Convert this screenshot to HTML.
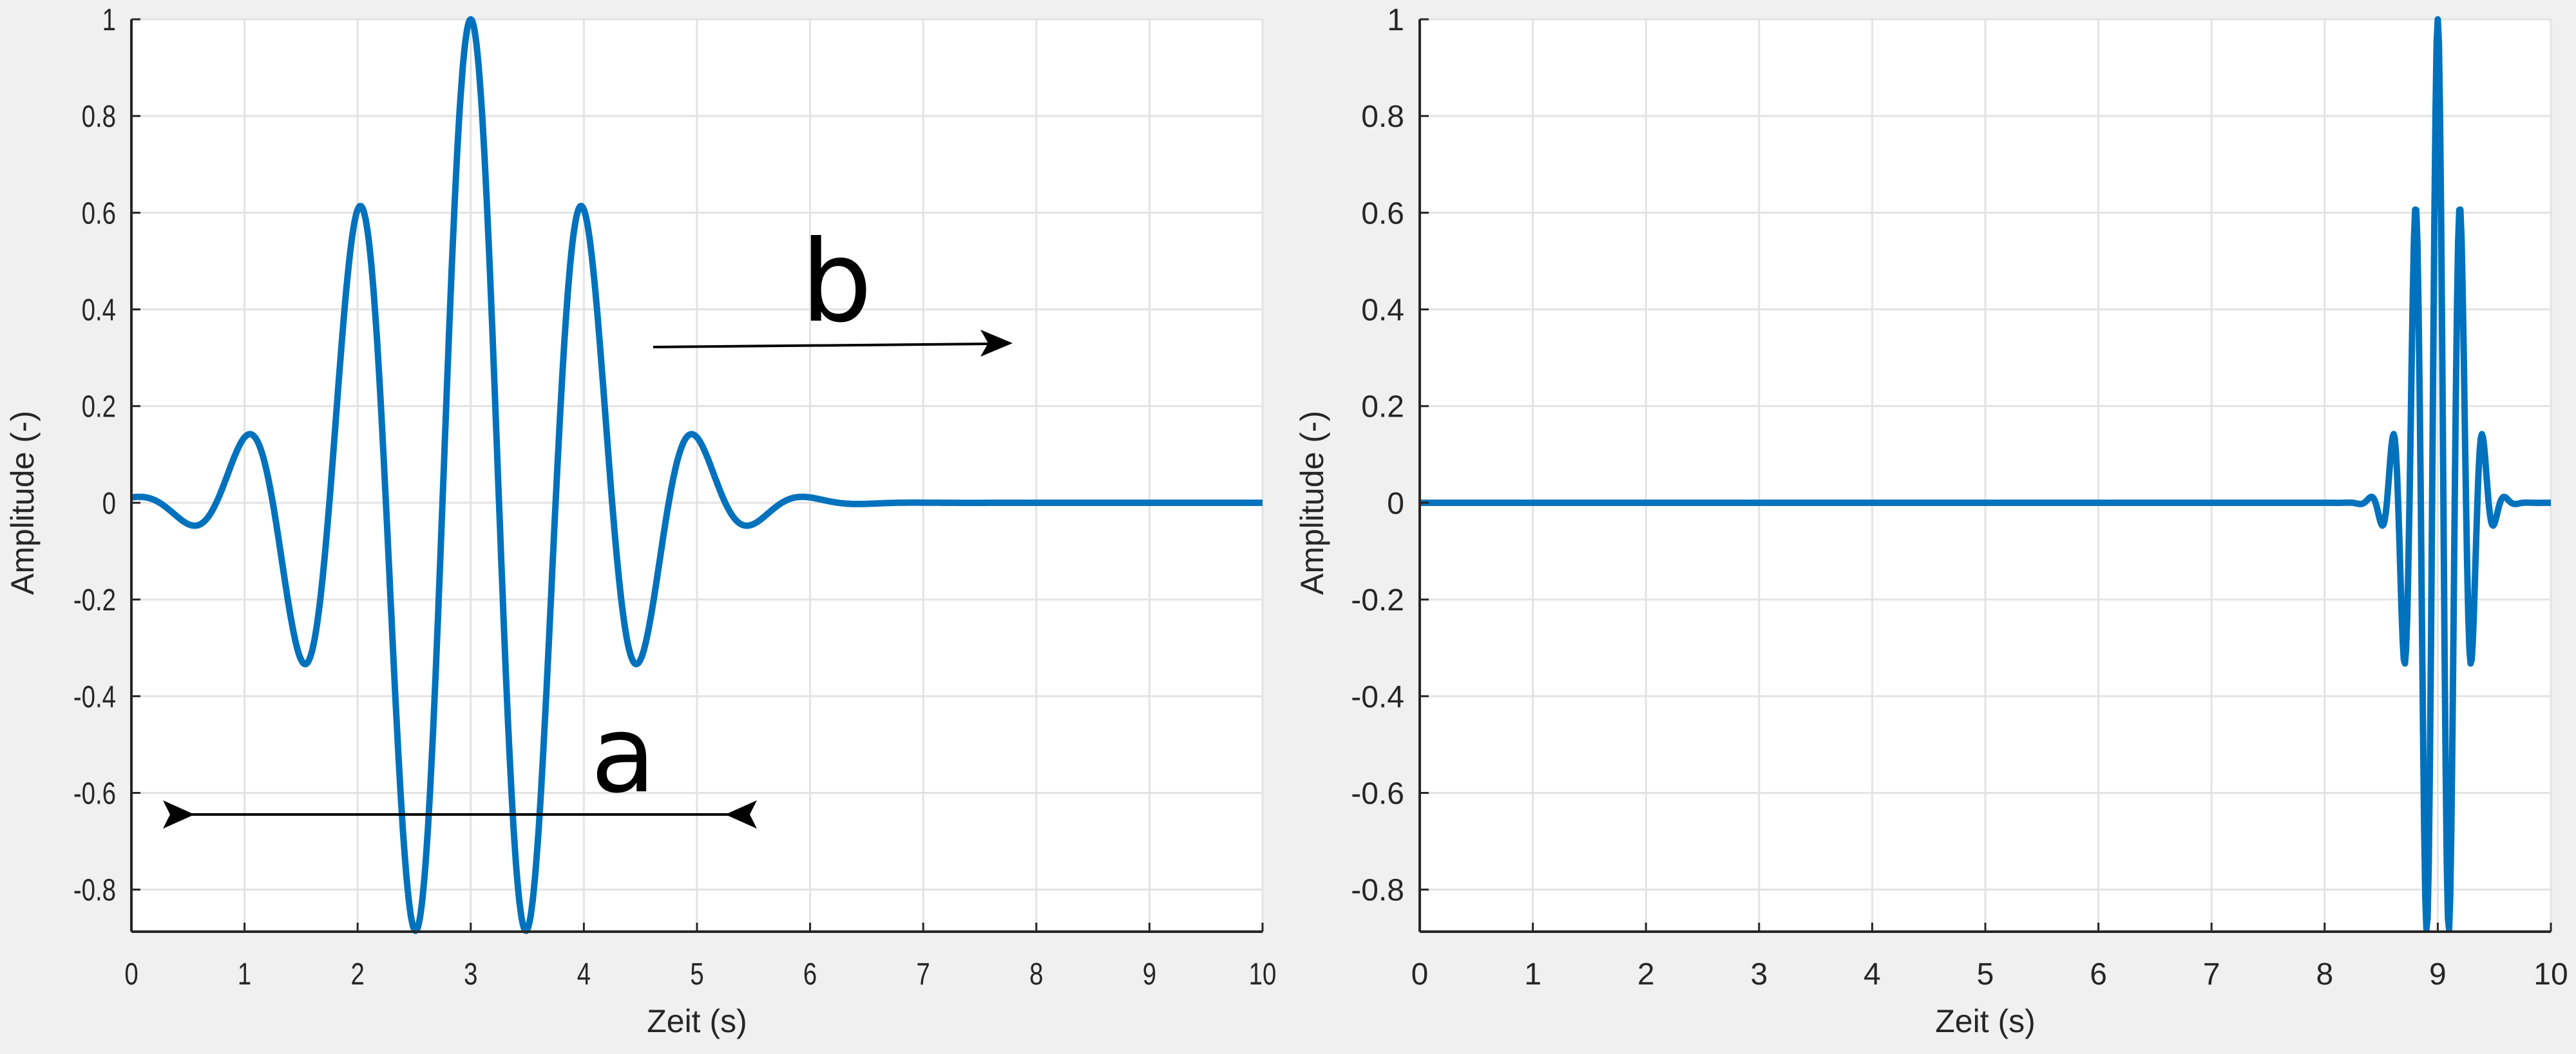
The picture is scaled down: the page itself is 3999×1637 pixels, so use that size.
<!DOCTYPE html>
<html><head><meta charset="utf-8">
<style>
html,body{margin:0;padding:0;background:#f0f0f0;}
svg{display:block;font-family:"Liberation Sans",Arial,sans-serif;}
</style></head>
<body>
<svg id="chart" width="3999" height="1637" viewBox="0 0 3999 1637" xmlns="http://www.w3.org/2000/svg">
<rect x="0" y="0" width="3999" height="1637" fill="#f0f0f0"/>
<g id="panels"></g>
<g id="annotations">
  <text x="1243" y="498" font-family="DejaVu Sans, sans-serif" font-size="175" fill="#000">b</text>
  <line x1="1014" y1="539" x2="1540" y2="534" stroke="#000" stroke-width="4"/>
  <path d="M1572,533 L1522,512 L1534,533 L1522,554 Z" fill="#000"/>
  <text x="917" y="1229" font-family="DejaVu Sans, sans-serif" font-size="165" fill="#000">a</text>
  <line x1="270" y1="1265" x2="1160" y2="1265" stroke="#000" stroke-width="4"/>
  <path d="M302,1265 L253,1243 L264,1265 L253,1287 Z" fill="#000"/>
  <path d="M1126,1265 L1175,1243 L1164,1265 L1175,1287 Z" fill="#000"/>
</g>
</svg>
<script>
// data
const xTicks = [0,1,2,3,4,5,6,7,8,9,10];
const yTicks = [1,0.8,0.6,0.4,0.2,0,-0.2,-0.4,-0.6,-0.8];
const yTickLabels = ['1','0.8','0.6','0.4','0.2','0','-0.2','-0.4','-0.6','-0.8'];
const xDomain = [0,10];
const yDomain = [-0.887,1];
// wavelet parameters [center (s), period (s), gaussian sigma (s)]
const leftWavelet = [3, 1, 1];
const rightWavelet = [9, 0.2, 0.2];
const xLabel = 'Zeit (s)';
const yLabel = 'Amplitude (-)';

const NS='http://www.w3.org/2000/svg';
const panels=document.getElementById('panels');
function mk(tag,attrs,parent){const e=document.createElementNS(NS,tag);for(const k in attrs)e.setAttribute(k,attrs[k]);parent.appendChild(e);return e;}

function drawPanel(name,L,R,T,B,wave,ylx,step,narrow){
  const g=mk('g',{},panels);
  
  
  const sx=v=>L+(v-xDomain[0])/(xDomain[1]-xDomain[0])*(R-L);
  const sy=v=>B-(v-yDomain[0])/(yDomain[1]-yDomain[0])*(B-T);
  const bg=mk('rect',{x:L,y:T,width:R-L,height:B-T,fill:'#fff'},g);
  
  
  xTicks.forEach(t=>{
    const l=mk('line',{x1:sx(t),x2:sx(t),y1:T,y2:B,stroke:'#e3e3e3','stroke-width':3},g);
    
    
  });
  yTicks.forEach(t=>{
    const l=mk('line',{x1:L,x2:R,y1:sy(t),y2:sy(t),stroke:'#e3e3e3','stroke-width':3},g);
    
    
  });
  // curve
  const c=wave[0],p=wave[1],s=wave[2];
  let d='';
  for(let t=xDomain[0];t<=xDomain[1]+1e-9;t+=step){
    const v=Math.cos(2*Math.PI*(t-c)/p)*Math.exp(-0.5*Math.pow((t-c)/s,2));
    d+=(d?'L':'M')+sx(t).toFixed(1)+','+sy(v).toFixed(1);
  }
  const cp=mk('clipPath',{id:name+'-clip'},g);
  mk('rect',{x:L,y:T-8,width:R-L,height:B-T+16},cp);
  const path=mk('path',{d:d,fill:'none',stroke:'#0072bd','stroke-width':10,'stroke-linejoin':'round','clip-path':'url(#'+name+'-clip)'},g);
  
  
  // axes
  const ax=mk('line',{x1:L,x2:R,y1:B,y2:B,stroke:'#262626','stroke-width':4},g);
  
  
  const ay=mk('line',{x1:L,x2:L,y1:T,y2:B,stroke:'#262626','stroke-width':4},g);
  
  
  xTicks.forEach(t=>{
    mk('line',{x1:sx(t),x2:sx(t),y1:B,y2:B-14,stroke:'#262626','stroke-width':3},g);
    const tx=mk('text',{x:sx(t),y:B+82,'text-anchor':'middle','font-size':48,fill:'#262626'},g);
    if(narrow)tx.setAttribute('transform','translate('+sx(t)+',0) scale(0.8,1) translate('+(-sx(t))+',0)');
    tx.textContent=String(t);
    
    
  });
  yTicks.forEach((t,i)=>{
    mk('line',{x1:L,x2:L+14,y1:sy(t),y2:sy(t),stroke:'#262626','stroke-width':3},g);
    const tx=mk('text',{x:L-24,y:sy(t)+17,'text-anchor':'end','font-size':48,fill:'#262626'},g);
    if(narrow)tx.setAttribute('transform','translate('+(L-24)+',0) scale(0.8,1) translate('+(-(L-24))+',0)');
    tx.textContent=yTickLabels[i];
    
    
  });
  const xl=mk('text',{x:(L+R)/2,y:1603,'text-anchor':'middle','font-size':50,fill:'#262626'},g);
  xl.textContent=xLabel;
  
  
  const ym=sy(0);
  const yl=mk('text',{x:ylx,y:ym,'text-anchor':'middle','font-size':50,fill:'#262626',transform:'rotate(-90 '+ylx+' '+ym+')'},g);
  yl.textContent=yLabel;
  
  
}
drawPanel('left-panel',204,1960,30,1447,leftWavelet,52,0.01,true);
drawPanel('right-panel',2204,3960,30,1447,rightWavelet,2054,0.01,false);
</script>
</body></html>
